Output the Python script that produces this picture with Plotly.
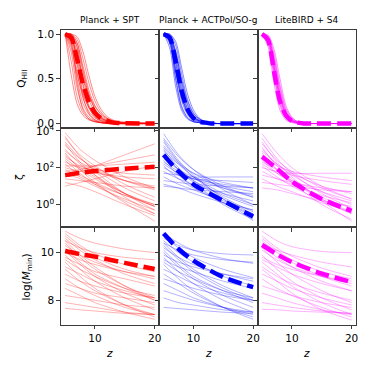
import plotly.graph_objects as go
import numpy as np

# redshift nodes
z_q = [5, 6, 7, 8, 9, 10, 11, 12, 13, 14, 20]
z_p = [5, 7.5, 10, 15, 20]

titles = ["Planck + SPT", "Planck + ACTPol/SO-g", "LiteBIRD + S4"]
colors = ["255,0,0", "0,0,255", "255,0,255"]

# ---- row 1: Q_HII samples ----
q_red = [
    [1, 0.55, 0.22, 0.09, 0.04, 0.02, 0.01, 0, 0, 0, 0],
    [1, 0.7, 0.3, 0.12, 0.05, 0.02, 0.01, 0, 0, 0, 0],
    [1, 0.8, 0.4, 0.17, 0.07, 0.03, 0.01, 0.01, 0, 0, 0],
    [1, 0.88, 0.5, 0.22, 0.1, 0.04, 0.02, 0.01, 0, 0, 0],
    [1, 0.92, 0.58, 0.28, 0.13, 0.06, 0.03, 0.01, 0.01, 0, 0],
    [1, 0.95, 0.66, 0.35, 0.17, 0.08, 0.04, 0.02, 0.01, 0, 0],
    [1, 0.97, 0.74, 0.42, 0.2, 0.1, 0.05, 0.02, 0.01, 0, 0],
    [1, 0.98, 0.8, 0.5, 0.26, 0.13, 0.06, 0.03, 0.01, 0.01, 0],
    [1, 0.99, 0.86, 0.57, 0.31, 0.16, 0.08, 0.04, 0.02, 0.01, 0],
    [1, 1, 0.9, 0.64, 0.37, 0.2, 0.1, 0.05, 0.02, 0.01, 0],
    [1, 1, 0.94, 0.72, 0.45, 0.25, 0.13, 0.06, 0.03, 0.01, 0],
    [1, 1, 0.97, 0.8, 0.53, 0.3, 0.16, 0.08, 0.04, 0.02, 0],
    [1, 0.9, 0.45, 0.15, 0.05, 0.02, 0.01, 0, 0, 0, 0],
    [1, 0.97, 0.7, 0.3, 0.11, 0.04, 0.01, 0, 0, 0, 0],
    [1, 0.99, 0.85, 0.45, 0.18, 0.07, 0.03, 0.01, 0, 0, 0],
    [1, 0.85, 0.55, 0.32, 0.18, 0.1, 0.06, 0.03, 0.02, 0.01, 0],
    [1, 0.95, 0.75, 0.5, 0.32, 0.19, 0.11, 0.06, 0.03, 0.02, 0],
    [1, 1, 0.9, 0.6, 0.33, 0.16, 0.07, 0.03, 0.01, 0, 0],
]
q_blue = [
    [1, 0.85, 0.42, 0.15, 0.05, 0.02, 0.01, 0, 0, 0, 0],
    [1, 0.9, 0.52, 0.2, 0.07, 0.02, 0.01, 0, 0, 0, 0],
    [1, 0.94, 0.6, 0.26, 0.1, 0.03, 0.01, 0, 0, 0, 0],
    [1, 0.96, 0.68, 0.32, 0.13, 0.05, 0.02, 0.01, 0, 0, 0],
    [1, 0.98, 0.75, 0.4, 0.17, 0.07, 0.03, 0.01, 0, 0, 0],
    [1, 0.99, 0.82, 0.48, 0.22, 0.09, 0.04, 0.01, 0, 0, 0],
    [1, 1, 0.88, 0.56, 0.27, 0.12, 0.05, 0.02, 0.01, 0, 0],
    [1, 1, 0.92, 0.63, 0.33, 0.15, 0.06, 0.02, 0.01, 0, 0],
    [1, 0.95, 0.62, 0.3, 0.12, 0.05, 0.02, 0.01, 0, 0, 0],
    [1, 0.97, 0.7, 0.36, 0.16, 0.07, 0.03, 0.01, 0, 0, 0],
    [1, 0.99, 0.78, 0.44, 0.2, 0.08, 0.03, 0.01, 0, 0, 0],
    [1, 0.93, 0.58, 0.3, 0.14, 0.06, 0.03, 0.01, 0, 0, 0],
    [1, 0.98, 0.8, 0.5, 0.25, 0.11, 0.05, 0.02, 0.01, 0, 0],
    [1, 0.92, 0.5, 0.18, 0.06, 0.02, 0.01, 0, 0, 0, 0],
]
q_mag = [
    [1, 0.86, 0.45, 0.15, 0.04, 0.01, 0, 0, 0, 0, 0],
    [1, 0.9, 0.53, 0.2, 0.06, 0.02, 0, 0, 0, 0, 0],
    [1, 0.93, 0.6, 0.25, 0.08, 0.02, 0.01, 0, 0, 0, 0],
    [1, 0.95, 0.66, 0.3, 0.1, 0.03, 0.01, 0, 0, 0, 0],
    [1, 0.97, 0.72, 0.36, 0.13, 0.04, 0.01, 0, 0, 0, 0],
    [1, 0.98, 0.78, 0.43, 0.17, 0.06, 0.02, 0, 0, 0, 0],
    [1, 0.99, 0.83, 0.5, 0.2, 0.07, 0.02, 0.01, 0, 0, 0],
    [1, 0.94, 0.62, 0.28, 0.1, 0.04, 0.01, 0, 0, 0, 0],
    [1, 0.96, 0.68, 0.33, 0.12, 0.04, 0.01, 0, 0, 0, 0],
    [1, 0.92, 0.56, 0.22, 0.07, 0.02, 0.01, 0, 0, 0, 0],
    [1, 0.97, 0.74, 0.4, 0.15, 0.05, 0.02, 0, 0, 0, 0],
    [1, 0.95, 0.64, 0.3, 0.11, 0.03, 0.01, 0, 0, 0, 0],
]
q_best = [
    [1, 0.96, 0.72, 0.44, 0.24, 0.12, 0.06, 0.03, 0.01, 0.005, 0],
    [1, 0.96, 0.7, 0.37, 0.16, 0.06, 0.02, 0.01, 0, 0, 0],
    [1, 0.93, 0.58, 0.25, 0.09, 0.03, 0.01, 0, 0, 0, 0],
]

# ---- row 2: log10(zeta) samples ----
lzeta_red = [
    [3.9, 3.0, 2.4, 1.5, 0.9], [3.6, 2.7, 2.1, 1.1, 0.4], [3.4, 2.5, 1.9, 0.9, 0.2],
    [3.2, 2.5, 2.0, 1.3, 0.8], [3.0, 2.2, 1.6, 0.6, -0.1], [2.9, 2.3, 1.9, 1.3, 0.9],
    [2.7, 2.0, 1.5, 0.6, -0.1], [2.6, 2.1, 1.8, 1.3, 1.0], [2.5, 1.9, 1.4, 0.6, 0.0],
    [2.4, 1.7, 1.1, 0.2, -0.5], [2.3, 2.0, 1.9, 1.7, 1.6], [2.2, 1.6, 1.2, 0.5, -0.1],
    [2.0, 1.8, 1.7, 1.5, 1.4], [1.9, 1.5, 1.1, 0.5, 0.0], [1.8, 1.9, 2.1, 2.4, 2.7],
    [1.7, 1.4, 1.0, 0.3, -0.3], [1.5, 1.8, 2.1, 2.7, 3.3], [1.4, 1.3, 1.2, 1.0, 0.9],
    [1.2, 1.0, 0.7, 0.0, -0.6], [1.0, 1.2, 1.4, 1.8, 2.1], [3.3, 2.3, 1.6, 0.4, -0.5],
    [2.8, 1.9, 1.2, 0.1, -0.9], [2.1, 2.1, 2.1, 2.2, 2.3], [3.7, 2.6, 1.8, 0.6, -0.3],
]
lzeta_blue = [
    [3.85, 2.7, 1.9, 0.8, 0.0], [3.6, 2.6, 1.9, 1.0, 0.4], [3.4, 2.3, 1.5, 0.4, -0.4],
    [3.2, 2.3, 1.7, 0.9, 0.4], [3.0, 2.0, 1.3, 0.3, -0.5], [2.9, 2.2, 1.7, 1.2, 0.9],
    [2.7, 1.9, 1.3, 0.5, -0.1], [2.5, 1.9, 1.5, 1.0, 0.7], [2.4, 1.6, 1.0, 0.1, -0.6],
    [2.2, 1.7, 1.4, 1.1, 0.9], [2.1, 1.4, 0.9, 0.1, -0.5], [2.0, 1.6, 1.4, 1.3, 1.2],
    [1.8, 1.4, 1.1, 0.6, 0.2], [1.7, 1.6, 1.5, 1.5, 1.5], [1.5, 1.1, 0.8, 0.2, -0.3],
    [1.3, 1.2, 1.1, 1.0, 0.9], [1.1, 0.9, 0.6, 0.1, -0.3], [1.0, 0.9, 0.8, 0.7, 0.6],
    [3.5, 2.4, 1.6, 0.3, -0.88], [2.8, 1.9, 1.2, 0.0, -0.8], [3.1, 2.2, 1.5, 0.6, 0.0],
    [2.3, 1.8, 1.4, 0.9, 0.5],
]
lzeta_mag = [
    [3.85, 2.8, 2.0, 1.0, 0.3], [3.6, 2.5, 1.7, 0.6, -0.2], [3.3, 2.4, 1.8, 0.9, 0.3],
    [3.1, 2.1, 1.4, 0.3, -0.5], [2.9, 2.2, 1.7, 1.0, 0.6], [2.7, 1.9, 1.3, 0.4, -0.2],
    [2.6, 2.1, 1.8, 1.5, 1.3], [2.4, 1.7, 1.2, 0.3, -0.4], [2.3, 1.9, 1.6, 1.3, 1.1],
    [2.1, 1.5, 1.0, 0.2, -0.5], [2.0, 1.8, 1.7, 1.7, 1.7], [1.8, 1.4, 1.1, 0.5, 0.1],
    [1.6, 1.4, 1.2, 0.9, 0.7], [1.4, 1.0, 0.7, 0.1, -0.4], [1.2, 1.1, 1.0, 0.8, 0.7],
    [0.9, 0.8, 0.6, 0.2, -0.1], [3.4, 2.3, 1.5, 0.2, -0.9], [2.8, 1.9, 1.2, 0.0, -0.8],
    [3.0, 2.2, 1.6, 0.7, 0.0], [2.2, 1.7, 1.3, 0.7, 0.2],
]
lzeta_best = [
    [1.6, 1.72, 1.82, 1.95, 2.05],
    [2.7, 1.8, 1.1, 0.2, -0.65],
    [2.6, 1.95, 1.25, 0.3, -0.34],
]

# ---- row 3: log(M_min) samples ----
lm_red = [
    [10.9, 10.6, 10.4, 10.15, 10.0], [10.8, 10.3, 9.95, 9.5, 9.2], [10.6, 10.1, 9.7, 9.1, 8.7],
    [10.5, 10.2, 10.0, 9.8, 9.7], [10.4, 9.8, 9.3, 8.6, 8.1], [10.3, 9.9, 9.6, 9.2, 8.9],
    [10.1, 9.5, 9.0, 8.3, 7.8], [10.0, 9.7, 9.5, 9.2, 9.0], [9.9, 9.3, 8.8, 8.1, 7.6],
    [9.7, 9.3, 9.0, 8.5, 8.2], [9.6, 9.0, 8.5, 7.8, 7.3], [9.4, 9.1, 8.8, 8.4, 8.1],
    [9.3, 8.8, 8.4, 7.8, 7.4], [9.1, 8.8, 8.6, 8.3, 8.1], [8.9, 8.5, 8.2, 7.7, 7.4],
    [8.7, 8.5, 8.3, 8.1, 7.9], [8.5, 8.2, 7.9, 7.5, 7.2], [8.2, 8.1, 8.0, 7.8, 7.7],
    [7.9, 7.8, 7.7, 7.5, 7.4], [7.66, 7.6, 7.55, 7.45, 7.4], [10.7, 10.2, 9.8, 9.3, 9.0],
    [10.2, 9.6, 9.1, 8.5, 8.0], [9.8, 9.5, 9.2, 8.9, 8.6], [10.5, 9.9, 9.4, 8.6, 8.0],
]
lm_blue = [
    [10.83, 10.4, 10.1, 9.75, 9.55], [10.7, 10.2, 9.8, 9.3, 8.95], [10.5, 10.0, 9.6, 9.0, 8.6],
    [10.4, 10.1, 9.9, 9.7, 9.6], [10.3, 9.7, 9.2, 8.5, 8.0], [10.2, 9.8, 9.5, 9.1, 8.8],
    [10.0, 9.4, 8.9, 8.2, 7.7], [9.9, 9.6, 9.4, 9.1, 8.9], [9.8, 9.2, 8.7, 8.0, 7.5],
    [9.6, 9.2, 8.9, 8.4, 8.1], [9.5, 8.9, 8.4, 7.7, 7.2], [9.3, 9.0, 8.7, 8.3, 8.0],
    [9.1, 8.7, 8.3, 7.7, 7.3], [8.9, 8.7, 8.5, 8.2, 8.0], [8.7, 8.4, 8.1, 7.7, 7.4],
    [8.4, 8.2, 8.0, 7.7, 7.5], [8.1, 7.9, 7.8, 7.6, 7.5], [7.7, 7.65, 7.6, 7.5, 7.45],
    [10.6, 10.3, 10.1, 9.95, 9.9], [10.1, 9.5, 9.0, 8.4, 7.9], [9.7, 9.4, 9.2, 8.8, 8.5],
    [10.4, 9.8, 9.3, 8.6, 8.1],
]
lm_mag = [
    [10.9, 10.5, 10.25, 10.05, 10.0], [10.7, 10.2, 9.85, 9.35, 9.0], [10.5, 10.0, 9.6, 9.0, 8.6],
    [10.4, 10.1, 9.9, 9.6, 9.4], [10.2, 9.6, 9.1, 8.4, 7.9], [10.1, 9.7, 9.4, 9.0, 8.7],
    [9.9, 9.3, 8.8, 8.1, 7.6], [9.8, 9.5, 9.3, 9.0, 8.8], [9.6, 9.1, 8.6, 7.9, 7.4],
    [9.4, 9.0, 8.7, 8.3, 8.0], [9.3, 8.8, 8.3, 7.6, 7.17], [9.1, 8.8, 8.5, 8.1, 7.8],
    [8.9, 8.5, 8.2, 7.7, 7.3], [8.6, 8.4, 8.2, 7.9, 7.7], [8.3, 8.1, 7.9, 7.6, 7.4],
    [7.9, 7.8, 7.7, 7.55, 7.45], [7.62, 7.6, 7.55, 7.5, 7.45], [10.6, 10.1, 9.7, 9.2, 8.9],
    [10.3, 9.8, 9.4, 8.8, 8.4], [9.7, 9.4, 9.1, 8.7, 8.4],
]
lm_best = [
    [10.07, 9.94, 9.83, 9.57, 9.31],
    [10.8, 10.15, 9.66, 8.97, 8.55],
    [10.32, 9.93, 9.6, 9.12, 8.76],
]

samples = [[q_red, q_blue, q_mag],
           [lzeta_red, lzeta_blue, lzeta_mag],
           [lm_red, lm_blue, lm_mag]]
bests = [q_best, lzeta_best, lm_best]
zgrid = [z_q, z_p, z_p]
line_alpha = [0.45, 0.3, 0.3]

W = H = 374
col_px = [(61, 160), (160, 259), (259, 358)]
row_px = [(25, 125), (125, 226), (226, 325)]

fig = go.Figure()
ax_line = "#3c3c3c"
tick_font = dict(family="DejaVu Sans", size=10.5, color="black")

for r in range(3):
    for c in range(3):
        n = r * 3 + c + 1
        xa = "x" if n == 1 else f"x{n}"
        ya = "y" if n == 1 else f"y{n}"
        rgb = colors[c]
        for s in samples[r][c]:
            y = np.array(s, dtype=float)
            if r == 1:
                y = 10 ** y
            fig.add_trace(go.Scatter(
                x=zgrid[r], y=y, mode="lines", xaxis=xa, yaxis=ya,
                line=dict(color=f"rgba({rgb},{line_alpha[r]})", width=1, shape="spline", smoothing=0.8),
                showlegend=False, hoverinfo="skip"))
        yb = np.array(bests[r][c], dtype=float)
        if r == 1:
            yb = 10 ** yb
        fig.add_trace(go.Scatter(
            x=zgrid[r], y=yb, mode="lines", xaxis=xa, yaxis=ya,
            line=dict(color=f"rgb({rgb})", width=4.5, dash="14px,6px", shape="spline", smoothing=0.8),
            showlegend=False))

        x0, x1 = col_px[c]
        y0, y1 = row_px[r]
        xkey = "xaxis" if n == 1 else f"xaxis{n}"
        ykey = "yaxis" if n == 1 else f"yaxis{n}"
        xaxis = dict(domain=[x0 / W, x1 / W], anchor=ya, range=[4.25, 20.75],
                     tickvals=[10, 20], ticktext=["10", "20"], showticklabels=(r == 2),
                     ticks="outside", ticklen=3.5, tickwidth=1, tickcolor=ax_line,
                     showline=True, mirror=True, linecolor=ax_line, linewidth=1,
                     showgrid=False, zeroline=False, tickfont=tick_font)
        if r == 0:
            yaxis = dict(range=[-0.05, 1.05], tickvals=[0, 0.5, 1.0],
                         ticktext=["0.0", "0.5", "1.0"])
        elif r == 1:
            yaxis = dict(type="log", range=[-1.24, 4.16], tickvals=[1, 100, 10000],
                         ticktext=["10<sup>0</sup>", "10<sup>2</sup>", "10<sup>4</sup>"])
        else:
            yaxis = dict(range=[6.97, 11.06], tickvals=[8, 10], ticktext=["8", "10"])
        yaxis.update(domain=[1 - y1 / H, 1 - y0 / H], anchor=xa, showticklabels=(c == 0),
                     ticks="outside", ticklen=3.5, tickwidth=1, tickcolor=ax_line,
                     showline=True, mirror=True, linecolor=ax_line, linewidth=1,
                     showgrid=False, zeroline=False, tickfont=tick_font)
        fig.layout[xkey] = xaxis
        fig.layout[ykey] = yaxis

annotations = []
lab_font = dict(family="DejaVu Sans", size=10.5, color="black")
for c in range(3):
    xc = (col_px[c][0] + col_px[c][1]) / 2 / W
    annotations.append(dict(text=titles[c], x=xc, y=1 - 15 / H, xref="paper", yref="paper",
                            xanchor="center", yanchor="middle", showarrow=False,
                            font=dict(family="DejaVu Sans", size=9, color="black")))
    annotations.append(dict(text="<i>z</i>", x=xc, y=1 - 354 / H, xref="paper", yref="paper",
                            xanchor="center", yanchor="middle", showarrow=False, font=lab_font))
ylabels = [("Q<sub>HII</sub>", 22, 75), ("ζ", 19, 175), ("log(<i>M</i><sub>min</sub>)", 27, 276)]
for txt, px, py in ylabels:
    annotations.append(dict(text=txt, x=px / W, y=1 - py / H, xref="paper", yref="paper",
                            xanchor="center", yanchor="middle", showarrow=False,
                            textangle=-90, font=lab_font))

fig.update_layout(width=W, height=H, margin=dict(l=0, r=0, t=0, b=0),
                  paper_bgcolor="white", plot_bgcolor="white",
                  annotations=annotations, showlegend=False)

fig.write_html("out.html", config={"displayModeBar": False},
               post_script="document.body.style.margin='0';")
